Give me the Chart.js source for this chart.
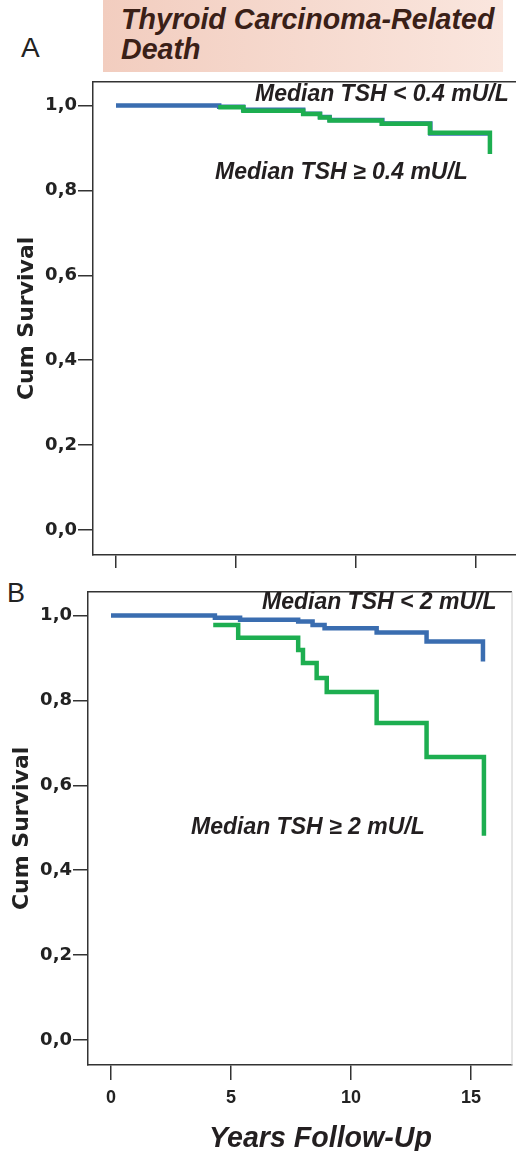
<!DOCTYPE html>
<html>
<head>
<meta charset="utf-8">
<script src="https://cdn.jsdelivr.net/npm/chart.js"></script>
<style>
  body { margin: 0; background: #fff; }
  #wrap { position: relative; width: 516px; height: 1151px; overflow: hidden; }
  canvas { position: absolute; left: 0; }
  .t { position: absolute; white-space: nowrap; color: #231f20; font-family: "Liberation Sans", Arial, sans-serif; }
  .note { font-size: 23px; font-weight: bold; font-style: italic; line-height: 23px; }
</style>
</head>
<body>
<div id="wrap">
  <div style="position:absolute;left:103px;top:0;width:400px;height:72px;background:linear-gradient(90deg,#f2cdbf,#fae6de);"></div>
  <div class="t" style="left:121px;top:4px;font-size:28.6px;line-height:30px;font-weight:bold;font-style:italic;color:#3a2017;">Thyroid Carcinoma-Related<br>Death</div>
  <div class="t" style="left:21px;top:33px;font-size:28px;line-height:30px;color:#222;">A</div>
  <div class="t" style="left:7px;top:578px;font-size:27px;line-height:30px;color:#222;">B</div>
  <canvas id="chartA" width="516" height="510" style="top:70px"></canvas>
  <canvas id="chartB" width="516" height="571" style="top:580px"></canvas>
  <div class="t note" style="left:255px;top:82px;">Median TSH &lt; 0.4 mU/L</div>
  <div class="t note" style="left:215px;top:160px;">Median TSH ≥ 0.4 mU/L</div>
  <div class="t note" style="left:262px;top:590px;">Median TSH &lt; 2 mU/L</div>
  <div class="t note" style="left:191px;top:815px;">Median TSH ≥ 2 mU/L</div>
  <div class="t" style="left:209px;top:1122px;font-size:28.6px;line-height:30px;font-weight:bold;font-style:italic;">Years Follow-Up</div>
</div>
<script>
// tick values
const xTicks = [0, 5, 10, 15]
const yTicks = [0, 0.2, 0.4, 0.6, 0.8, 1.0]

// panel A: median TSH < 0.4 / >= 0.4
const aLowYears = [0, 4.3, 5.3, 7.8, 8.5, 8.9, 11.1, 13.1, 15.55]
const aLowSurv  = [1.0, 0.997, 0.99, 0.981, 0.973, 0.966, 0.958, 0.934, 0.93]
const aHighYears = [4.26, 5.31, 7.8, 8.5, 8.9, 11.07, 13.08, 15.58]
const aHighSurv  = [0.996, 0.988, 0.98, 0.972, 0.965, 0.957, 0.936, 0.886]

// panel B: median TSH < 2 / >= 2
const bLowYears = [0, 4.33, 5.38, 7.8, 8.4, 8.9, 11.07, 13.15, 15.5]
const bLowSurv  = [1.0, 0.995, 0.99, 0.986, 0.978, 0.97, 0.96, 0.939, 0.892]
const bHighYears = [4.26, 5.3, 7.8, 8.0, 8.57, 8.99, 11.07, 13.15, 15.54]
const bHighSurv  = [0.978, 0.948, 0.919, 0.888, 0.853, 0.82, 0.747, 0.667, 0.481]

const blue = '#3a6db0'
const green = '#1dae50'
const ink = '#222'

const pts = (xs, ys) => xs.map((x, i) => ({x: x, y: ys[i]}))

const line = (label, xs, ys, color) => ({
  label: label,
  data: pts(xs, ys),
  borderColor: color,
  backgroundColor: color,
  borderWidth: 4.5,
  pointRadius: 0,
  stepped: true,
  fill: false,
  borderJoinStyle: 'miter'
})

// top/right frame of the plot box
const frame = {
  id: 'frame',
  afterDraw(chart, args, opts) {
    const a = chart.chartArea, ctx = chart.ctx
    ctx.save()
    ctx.lineWidth = 1.5
    ctx.strokeStyle = '#333'
    ctx.beginPath()
    ctx.moveTo(a.left, a.top)
    ctx.lineTo(a.right, a.top)
    ctx.stroke()
    if (opts.right) {
      ctx.strokeStyle = '#ccc'
      ctx.lineWidth = 1
      ctx.beginPath()
      ctx.moveTo(a.right, a.top)
      ctx.lineTo(a.right, a.bottom)
      ctx.stroke()
    }
    ctx.restore()
  }
}

function makeChart(id, datasets, p) {
  return new Chart(document.getElementById(id), {
    type: 'line',
    data: {datasets: datasets},
    plugins: [frame],
    options: {
      responsive: false,
      animation: false,
      layout: {padding: {top: p.top, left: 0, right: p.right, bottom: 0}},
      plugins: {legend: {display: false}, tooltip: {enabled: false}, frame: {right: p.frameRight}},
      scales: {
        x: {
          type: 'linear',
          min: p.xmin,
          max: p.xmax,
          afterBuildTicks: s => { s.ticks = xTicks.map(v => ({value: v})) },
          afterFit: s => { s.height = p.xHeight },
          border: {display: true, color: '#333', width: 1.5},
          grid: {display: true, drawOnChartArea: false, drawTicks: true, tickLength: p.xTick, color: '#333', lineWidth: 1.5},
          ticks: {
            display: p.xLabels,
            padding: 7,
            color: ink,
            font: {family: '"Liberation Sans", Arial, sans-serif', size: 18, weight: 'bold'}
          }
        },
        y: {
          min: -0.059,
          max: 1.056,
          afterBuildTicks: s => { s.ticks = yTicks.map(v => ({value: v})) },
          afterFit: s => { s.width = p.left },
          border: {display: true, color: '#333', width: 1.5},
          grid: {display: true, drawOnChartArea: false, drawTicks: true, tickLength: 15, color: '#333', lineWidth: 1.5},
          ticks: {
            padding: 1,
            color: ink,
            font: {family: '"DejaVu Sans", sans-serif', size: 18, weight: 'bold'},
            callback: v => v.toFixed(1).replace('.', ',')
          },
          title: {
            display: true,
            text: 'Cum Survival',
            color: ink,
            padding: {top: p.titlePad, bottom: 0},
            font: {family: '"DejaVu Sans", sans-serif', size: 22, weight: 'bold', lineHeight: 1}
          }
        }
      }
    }
  })
}

makeChart('chartA', [
  line('Median TSH ≥ 0.4 mU/L', aHighYears, aHighSurv, green),
  line('Median TSH < 0.4 mU/L', aLowYears, aLowSurv, blue)
], {top: 9, right: 0, left: 93, xmin: -0.958, xmax: 16.667, xHeight: 25, xTick: 13, xLabels: false, titlePad: 16, frameRight: false})

makeChart('chartB', [
  line('Median TSH < 2 mU/L', bLowYears, bLowSurv, blue),
  line('Median TSH ≥ 2 mU/L', bHighYears, bHighSurv, green)
], {top: 10, right: 4, left: 88, xmin: -0.958, xmax: 16.71, xHeight: 86, xTick: 15, xLabels: true, titlePad: 11, frameRight: true})
</script>
</body>
</html>
